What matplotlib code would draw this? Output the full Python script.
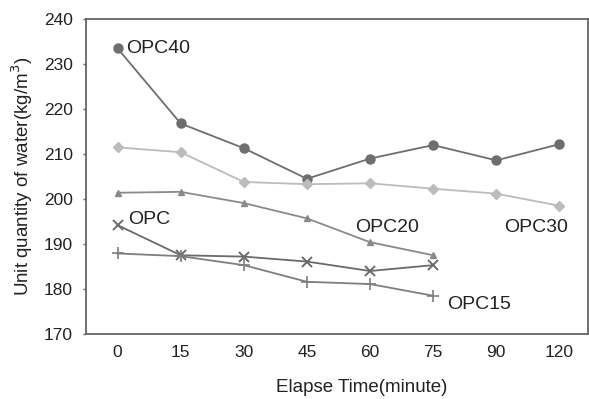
import matplotlib.pyplot as plt
import numpy as np

plt.rcParams['font.family'] = ['Liberation Sans', 'DejaVu Sans']

times = ['0', '15', '30', '45', '60', '75', '90', '120']

opc40 = [233.5, 216.8, 211.3, 204.5, 209.0, 212.0, 208.6, 212.2]
opc30 = [211.5, 210.4, 203.8, 203.3, 203.5, 202.3, 201.2, 198.5]
opc20 = [201.4, 201.6, 199.1, 195.7, 190.4, 187.5]
opc = [194.2, 187.5, 187.2, 186.1, 184.0, 185.3]
opc15 = [187.9, 187.3, 185.3, 181.6, 181.1, 178.5]

fig = plt.figure(figsize=(5.89, 3.99), dpi=100)
ax = fig.add_axes([0.146, 0.163, 0.852, 0.789])

x = np.arange(len(times))
ax.plot(x, opc40, color='#6e6e70', marker='o', markersize=6.5, linewidth=1.3)
ax.plot(x, opc30, color='#bcbcbe', marker='D', markersize=5, linewidth=1.3)
ax.plot(x[:len(opc20)], opc20, color='#8a8a8c', marker='^', markersize=5, linewidth=1.3)
ax.plot(x[:len(opc)], opc, color='#6a6a6c', marker='x', markersize=7, markeredgewidth=1.4, linewidth=1.3)
ax.plot(x[:len(opc15)], opc15, color='#7e7e80', marker='+', markersize=9, markeredgewidth=1.2, linewidth=1.3)

# series labels (baseline placed under the capitals)
lab = dict(fontsize=14, color='#222222', va='baseline', ha='left')
ax.text(0.14, 232.4, 'OPC40', **lab)
ax.text(0.17, 194.4, 'OPC', **lab)
ax.text(3.76, 192.7, 'OPC20', **lab)
ax.text(6.13, 192.7, 'OPC30', **lab)
ax.text(5.22, 175.6, 'OPC15', **lab)

ax.set_xlim(-0.5, 7.45)
ax.set_ylim(170, 240)
ax.set_xticks(x)
ax.set_xticklabels(times)
ax.set_yticks(np.arange(170, 241, 10))
ax.tick_params(axis='x', length=0, pad=8, labelsize=12.5, labelcolor='#222222')
ax.tick_params(axis='y', length=2.5, width=1, color='#666666', pad=7,
               labelsize=12.5, labelcolor='#222222')

for s in ax.spines.values():
    s.set_color('#666666')
    s.set_linewidth(1.3)

ax.set_xlabel('Elapse Time(minute)', fontsize=13.5, color='#222222', va='center')
ax.xaxis.set_label_coords(0.55, -0.171)
ax.set_ylabel('Unit quantity of water(kg/m$^3$)', fontsize=13.5, color='#222222', va='center')
ax.yaxis.set_label_coords(-0.127, 0.5)

fig.savefig('out.png', dpi=100)
